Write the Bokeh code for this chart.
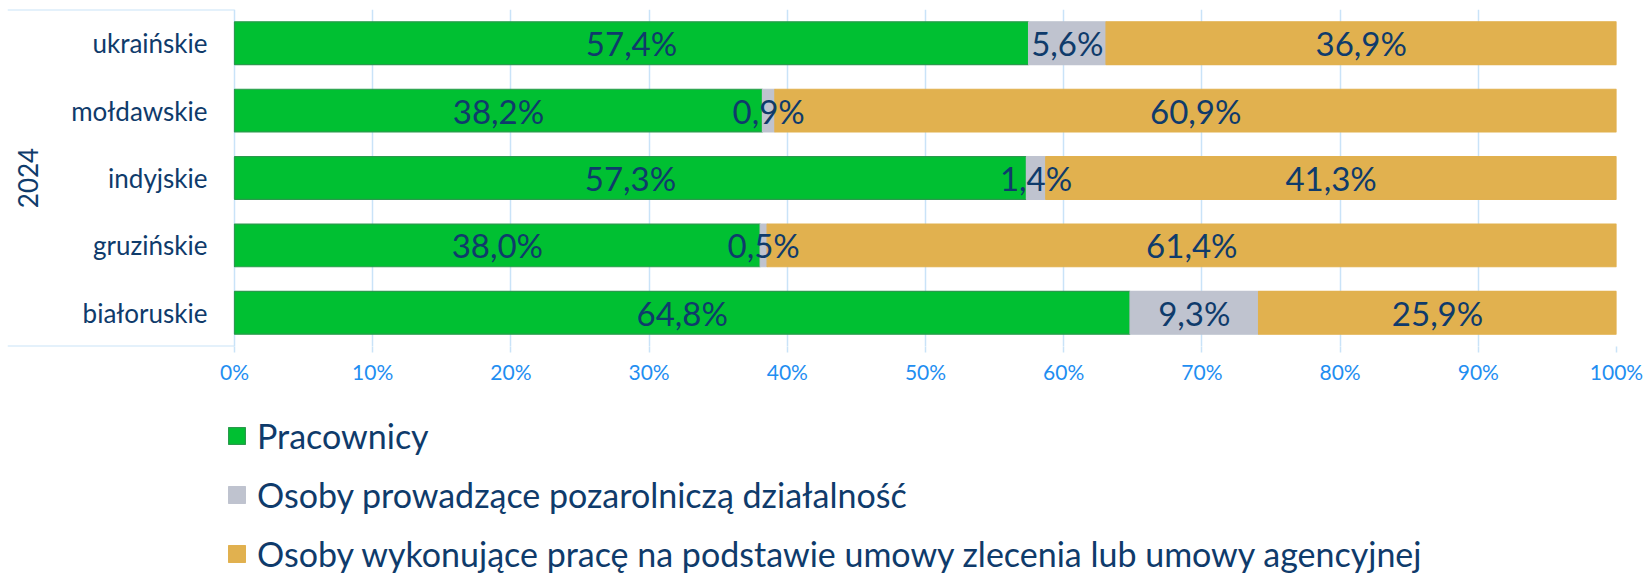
import math
from bokeh.plotting import figure
from bokeh.layouts import column
from bokeh.models import ColumnDataSource, FactorRange, Range1d, FixedTicker, Legend, LegendItem
from bokeh.core.properties import value
from bokeh.embed import file_html
from bokeh.resources import INLINE

# ---- data ----
categories = ["ukraińskie", "mołdawskie", "indyjskie", "gruzińskie", "białoruskie"]
pracownicy = [57.4, 38.2, 57.3, 38.0, 64.8]
pozarolnicza = [5.6, 0.9, 1.4, 0.5, 9.3]
zlecenie = [36.9, 60.9, 41.3, 61.4, 25.9]
series_names = [
    "Pracownicy",
    "Osoby prowadzące pozarolniczą działalność",
    "Osoby wykonujące pracę na podstawie umowy zlecenia lub umowy agencyjnej",
]
year_label = "2024"
x_ticks = [0, 10, 20, 30, 40, 50, 60, 70, 80, 90, 100]

# ---- styles ----
FONT = "Lato"
NAVY = "#0f3b6b"
TICK_BLUE = "#1f8ef1"
GRID = "#c9e3f8"
fill_colors = ["#00c032", "#bfc3cf", "#e1b14f"]
line_colors = ["#2a9a4c", "#bfc3cf", "#e1b14f"]

series = [pracownicy, pozarolnicza, zlecenie]
totals = [sum(v) for v in zip(*series)]

def fmt(v):
    return f"{v:.1f}".replace(".", ",") + "%"

# frame spans the label box too: zero of the axis sits 227 px right of the frame's left edge
FRAME_W = 1609
ZERO_PX = 227
x_start = -ZERO_PX / (FRAME_W - ZERO_PX) * 100

p = figure(
    width=1646, height=410,
    y_range=FactorRange(factors=list(reversed(categories))),
    x_range=Range1d(x_start, 100),
    output_backend="svg", toolbar_location=None,
    min_border_left=7, min_border_right=30, min_border_top=9, min_border_bottom=64,
)
p.outline_line_color = None

renderers = []
starts = [0.0] * len(categories)
label_x, label_y, label_t = [], [], []
for vals, fc, lc in zip(series, fill_colors, line_colors):
    shares = [v / t * 100 for v, t in zip(vals, totals)]
    left = starts[:]
    right = [a + b for a, b in zip(left, shares)]
    src = ColumnDataSource(dict(cat=categories, left=left, right=right))
    r = p.hbar(y="cat", left="left", right="right", height=0.633, source=src,
               fill_color=fc, line_color=lc, line_width=1.2)
    renderers.append(r)
    for c, a, b, v in zip(categories, left, right, vals):
        label_x.append((a + b) / 2)
        label_y.append(c)
        label_t.append(fmt(v))
    starts = right

lsrc = ColumnDataSource(dict(x=label_x, y=label_y, t=label_t))
p.text(x="x", y="y", text="t", source=lsrc, text_align="center", text_baseline="middle",
       text_font=value(FONT), text_font_size="33px", text_color=NAVY)

# category labels (right aligned, left of the zero line)
csrc = ColumnDataSource(dict(x=[0] * len(categories), y=categories, t=categories))
p.text(x="x", y="y", text="t", source=csrc, x_offset=-27, text_align="right",
       text_baseline="middle", text_font=value(FONT), text_font_size="26px", text_color=NAVY)

# year group label, rotated
n = len(categories)
p.text(x=[x_start], y=[n / 2], text=[year_label], x_offset=20, angle=math.pi / 2,
       text_align="center", text_baseline="middle", text_font=value(FONT),
       text_font_size="26px", text_color=NAVY)

# category box lines
p.segment(x0=[x_start, x_start], y0=[0, n], x1=[0, 0], y1=[0, n], line_color=GRID, line_width=2)

# grid
p.ygrid.grid_line_color = None
p.xgrid.grid_line_color = GRID
p.xgrid.grid_line_width = 1.5
p.xgrid.ticker = FixedTicker(ticks=x_ticks)

# x axis
p.yaxis.visible = False
p.xaxis.ticker = FixedTicker(ticks=x_ticks)
p.xaxis.major_label_overrides = {t: f"{t}%" for t in x_ticks}
p.xaxis.axis_line_color = None
p.xaxis.major_tick_line_color = GRID
p.xaxis.major_tick_line_width = 1.5
p.xaxis.major_tick_out = 6
p.xaxis.major_tick_in = 0
p.xaxis.minor_tick_line_color = None
p.xaxis.major_label_standoff = 6
p.xaxis.major_label_text_font = FONT
p.xaxis.major_label_text_font_size = "21px"
p.xaxis.major_label_text_color = TICK_BLUE

# ---- legend strip (key proxies carry no drawable coordinates) ----
q = figure(
    width=1646, height=167, x_range=Range1d(0, 1), y_range=Range1d(0, 1),
    output_backend="svg", toolbar_location=None,
    x_axis_location=None, y_axis_location=None,
    min_border_left=0, min_border_right=0, min_border_top=0, min_border_bottom=0,
)
q.outline_line_color = None
q.xgrid.visible = False
q.ygrid.visible = False
key_src = ColumnDataSource(dict(y=[math.nan], left=[math.nan], right=[math.nan]))
key_renderers = []
for fc, lc in zip(fill_colors, line_colors):
    key_renderers.append(q.hbar(y="y", left="left", right="right", height=0.5, source=key_src,
                                fill_color=fc, line_color=lc, line_width=1.2))

legend = Legend(
    items=[LegendItem(label=name, renderers=[r]) for name, r in zip(series_names, key_renderers)],
    location=(219, 3), orientation="vertical",
    label_text_font=FONT, label_text_font_size="34px", label_text_color=NAVY,
    glyph_width=21, glyph_height=21, label_height=40, spacing=18,
    padding=0, margin=0, label_standoff=10,
    background_fill_alpha=0, border_line_alpha=0,
)
q.add_layout(legend, "center")

layout = column(p, q, spacing=0)
open("out.html", "w").write(file_html(layout, INLINE))
